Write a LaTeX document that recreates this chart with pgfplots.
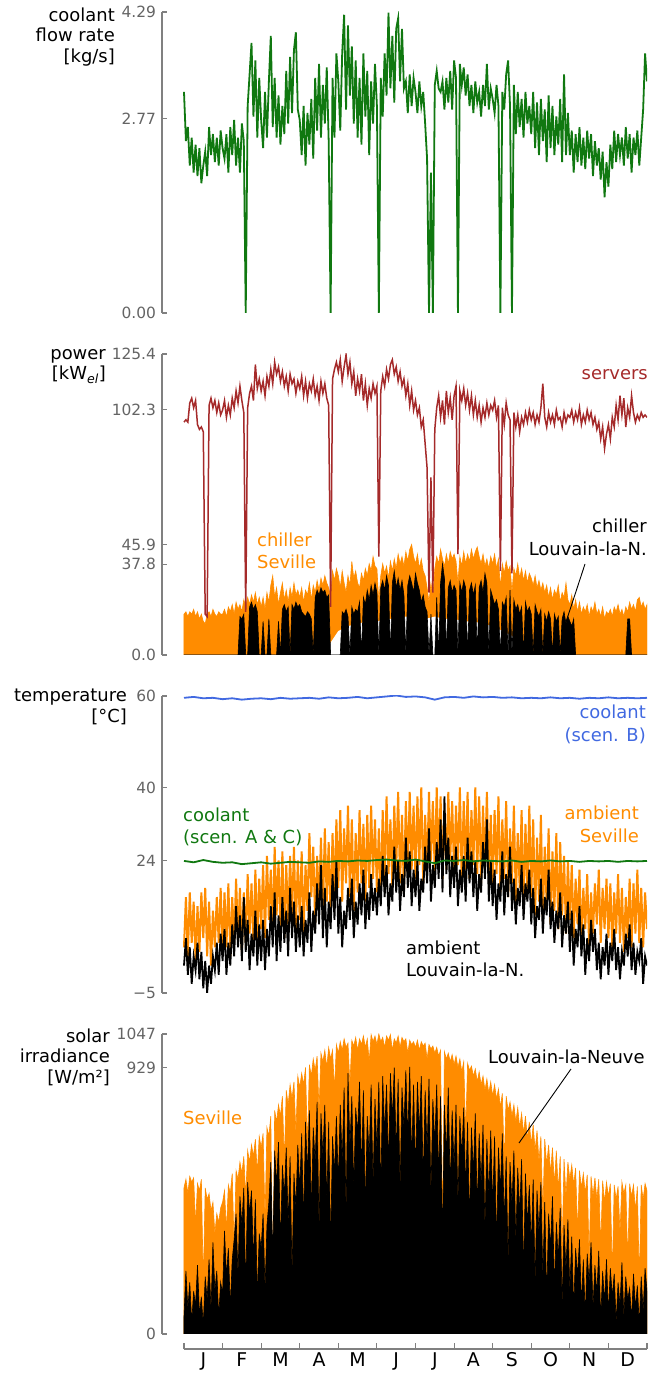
\documentclass[border=0pt]{standalone}
\usepackage{fontspec}
\setmainfont{DejaVu Sans}
\usepackage{pgfplots}
\pgfplotsset{compat=1.18}
\definecolor{cgreen}{RGB}{16,120,16}
\definecolor{cbrown}{RGB}{165,42,42}
\definecolor{corange}{RGB}{255,140,0}
\definecolor{cblue}{RGB}{65,105,225}
\definecolor{spine}{RGB}{128,128,128}
\definecolor{tickgray}{RGB}{100,100,100}
\newcommand\lab{\fontsize{18}{21}\selectfont}
\pgfplotsset{
  panel/.style={
    scale only axis, width=485bp, xmin=-0.570, xmax=12,
    axis x line=none, axis y line=left,
    axis line style={-, spine, line width=1.3bp},
    tick align=inside, major tick length=5bp,
    every tick/.style={spine, line width=1.1bp},
    yticklabel style={font=\fontsize{15.5}{17}\selectfont, text=tickgray, xshift=-2.5bp},
    /pgf/number format/assume math mode=true,
    clip=true, anchor=south west,
  },
}
\begin{document}
\begin{tikzpicture}
\path[use as bounding box] (0bp,0bp) rectangle (651bp,1375bp);
% ---------------- panel 1: flow rate
\begin{axis}[panel, at={(162bp,1062bp)}, height=301bp, ymin=0, ymax=4.29,
  ytick={0,2.77,4.29}, yticklabels={0.00,2.77,4.29}]
\addplot[cgreen, line width=1.8bp] table[row sep=\\, header=false, x expr=\coordindex*0.05, y index=0] {
3.15\\2.45\\2.65\\2.1\\2.5\\2.0\\2.4\\1.95\\2.35\\1.85\\2.1\\2.3\\1.95\\2.65\\2.25\\2.55\\2.15\\2.5\\2.1\\2.6\\
2.35\\2.2\\2.55\\2.0\\2.65\\2.25\\2.75\\2.1\\2.5\\2.0\\2.7\\2.45\\0\\2.95\\3.4\\3.85\\2.8\\3.6\\2.5\\3.35\\
2.75\\2.35\\3.15\\2.5\\3.3\\3.95\\2.65\\3.35\\2.5\\3.1\\2.4\\2.95\\2.55\\3.45\\2.7\\3.65\\2.85\\3.75\\4.0\\2.9\\
2.75\\2.25\\2.95\\2.1\\2.85\\2.4\\3.05\\2.2\\3.35\\2.6\\3.55\\2.5\\3.25\\2.7\\3.5\\2.45\\0\\3.35\\2.5\\3.7\\
3.3\\2.6\\3.7\\4.25\\2.9\\4.1\\3.1\\3.8\\2.7\\3.6\\2.5\\3.35\\2.4\\3.7\\2.8\\3.45\\2.25\\3.3\\2.7\\3.55\\
2.95\\0\\3.35\\2.8\\3.7\\3.1\\4.28\\3.2\\3.95\\3.0\\4.05\\4.2\\3.3\\4.05\\3.2\\3.3\\2.85\\3.4\\2.95\\3.35\\
3.15\\2.85\\3.3\\2.95\\3.15\\2.7\\2.2\\0\\2.0\\0\\3.25\\3.45\\3.2\\3.15\\3.3\\2.9\\3.35\\3.0\\3.45\\2.9\\
3.6\\3.35\\0\\3.55\\3.25\\3.5\\3.1\\3.4\\2.95\\3.25\\2.85\\3.3\\3.0\\3.15\\2.8\\3.25\\2.95\\3.55\\2.9\\3.2\\
3.05\\2.85\\3.25\\2.95\\0\\3.15\\2.9\\3.4\\3.6\\2.95\\0\\3.25\\2.55\\3.15\\2.65\\3.05\\2.5\\3.15\\2.7\\2.95\\
2.55\\3.15\\2.35\\3.0\\2.25\\3.05\\2.45\\2.9\\2.15\\3.1\\2.35\\2.95\\2.25\\2.8\\2.4\\3.05\\2.15\\3.4\\2.25\\2.85\\
2.25\\2.6\\2.0\\2.55\\2.15\\2.65\\2.1\\2.5\\2.05\\2.6\\2.2\\2.55\\1.95\\2.45\\2.1\\2.35\\1.9\\2.3\\1.65\\2.15\\
1.8\\2.4\\2.05\\2.6\\2.15\\2.55\\2.25\\2.5\\2.1\\2.65\\2.2\\2.55\\2.0\\2.5\\2.25\\2.6\\2.1\\2.5\\2.9\\3.7\\3.3\\
};
\end{axis}
% ---------------- panel 2: power
\begin{axis}[panel, at={(162bp,720bp)}, height=301bp, ymin=0, ymax=125.4,
  ytick={0,37.8,45.9,102.3,125.4}, yticklabels={0.0,37.8,45.9,102.3,125.4}]
\addplot[fill=corange, draw=corange, line width=0.6bp] table[row sep=\\, header=false, x expr=\coordindex*0.05, y index=0] {
17\\18\\16\\18\\17\\19\\16\\18\\15\\17\\14\\13\\17\\18\\16\\19\\17\\16\\18\\17\\
17\\19\\16\\20\\18\\21\\17\\22\\19\\21\\18\\23\\20\\24\\21\\25\\22\\26\\21\\24\\
20\\24\\19\\26\\22\\29\\33\\24\\28\\21\\26\\30\\23\\27\\22\\28\\24\\30\\25\\27\\
24\\28\\22\\27\\25\\30\\23\\29\\26\\31\\27\\32\\29\\33\\30\\28\\24\\35\\31\\36\\
33\\28\\35\\30\\26\\33\\29\\39\\32\\35\\30\\28\\34\\31\\36\\33\\38\\35\\41\\37\\
36\\22\\33\\38\\34\\37\\32\\39\\35\\40\\36\\42\\38\\41\\37\\43\\39\\44\\46\\41\\
38\\42\\36\\40\\35\\33\\28\\22\\30\\24\\36\\41\\38\\44\\40\\37\\42\\38\\43\\40\\
42\\39\\30\\41\\37\\43\\38\\42\\39\\44\\40\\43\\45\\41\\38\\42\\37\\40\\36\\41\\
38\\42\\36\\40\\28\\38\\34\\39\\35\\37\\26\\36\\33\\38\\32\\36\\31\\35\\30\\34\\
32\\29\\33\\28\\31\\27\\30\\26\\29\\24\\28\\23\\27\\25\\29\\22\\26\\24\\30\\23\\
21\\25\\19\\23\\18\\22\\17\\20\\18\\21\\16\\20\\18\\22\\17\\19\\16\\20\\15\\18\\
17\\19\\16\\20\\18\\21\\17\\19\\16\\20\\18\\22\\19\\21\\18\\23\\24\\20\\22\\19\\21\\
} \closedcycle;
\addplot[fill=white, draw=none] table[row sep=\\, header=false, x expr=\coordindex*0.25, y index=0] {
0\\0\\0\\0\\0\\0\\0\\0\\0\\0\\0\\0\\0\\0\\0\\4\\10\\12\\13\\14\\14\\15\\15\\16\\16\\15\\16\\15\\15\\14\\14\\13\\12\\10\\8\\5\\2\\0\\0\\0\\0\\0\\0\\0\\0\\0\\0\\0\\0\\
} \closedcycle;
\addplot[fill=black, draw=black, line width=0.6bp] table[row sep=\\, header=false, x expr=\coordindex*0.05, y index=0] {
0\\0\\0\\0\\0\\0\\0\\0\\0\\0\\0\\0\\0\\0\\0\\0\\0\\0\\0\\0\\
0\\0\\0\\0\\0\\0\\0\\0\\0\\16\\15\\17\\0\\0\\20\\22\\19\\21\\18\\0\\
0\\14\\0\\0\\15\\0\\0\\0\\0\\14\\0\\19\\21\\18\\20\\0\\21\\19\\22\\20\\
21\\18\\17\\16\\18\\17\\15\\0\\24\\27\\25\\28\\26\\27\\24\\25\\0\\0\\0\\0\\
0\\0\\18\\17\\19\\16\\0\\20\\17\\19\\18\\22\\0\\24\\21\\27\\23\\29\\25\\30\\
26\\0\\28\\31\\27\\33\\29\\0\\30\\35\\28\\32\\27\\31\\25\\0\\29\\33\\30\\26\\
34\\30\\27\\22\\25\\20\\18\\0\\17\\0\\0\\24\\0\\30\\38\\32\\0\\28\\31\\26\\
29\\27\\0\\30\\26\\31\\28\\0\\27\\30\\25\\29\\0\\28\\31\\26\\34\\30\\0\\27\\
24\\21\\23\\19\\0\\22\\20\\24\\0\\27\\0\\23\\19\\21\\17\\20\\0\\22\\18\\20\\
17\\0\\21\\18\\16\\19\\0\\17\\14\\18\\15\\0\\17\\14\\16\\0\\15\\18\\13\\16\\
14\\12\\15\\0\\0\\0\\0\\0\\0\\0\\0\\0\\0\\0\\0\\0\\0\\0\\0\\0\\
0\\0\\0\\0\\0\\0\\0\\0\\0\\0\\15\\15\\0\\0\\0\\0\\0\\0\\0\\0\\0\\
} \closedcycle;
\addplot[cbrown, line width=1.5bp] table[row sep=\\, header=false, x expr=\coordindex*0.05, y index=0] {
97\\98\\97\\105\\107\\103\\106\\96\\94\\95\\93\\17\\16\\104\\107\\103\\106\\101\\105\\100\\
102\\106\\99\\104\\100\\107\\103\\110\\105\\112\\106\\101\\18\\103\\109\\112\\106\\121\\111\\115\\
110\\114\\108\\116\\112\\119\\113\\122\\117\\120\\114\\118\\112\\116\\110\\117\\113\\115\\109\\114\\
111\\116\\108\\114\\107\\113\\110\\115\\108\\112\\106\\114\\109\\113\\107\\104\\20\\115\\119\\122\\
118\\123\\114\\120\\125\\117\\122\\113\\118\\108\\115\\110\\117\\106\\113\\104\\111\\107\\113\\109\\
112\\41\\110\\116\\112\\119\\115\\121\\123\\117\\120\\114\\118\\112\\115\\108\\113\\104\\110\\102\\
106\\100\\103\\95\\98\\88\\78\\26\\74\\26\\94\\103\\108\\99\\106\\96\\110\\101\\107\\98\\
108\\112\\42\\110\\106\\111\\104\\109\\102\\108\\100\\106\\99\\104\\97\\103\\99\\105\\100\\104\\
102\\106\\99\\104\\35\\103\\96\\105\\100\\98\\34\\101\\95\\100\\93\\99\\96\\101\\97\\102\\
98\\101\\96\\100\\97\\103\\113\\99\\95\\101\\97\\100\\96\\102\\98\\99\\95\\101\\97\\100\\
99\\102\\97\\101\\98\\103\\96\\100\\97\\102\\98\\101\\96\\99\\94\\97\\90\\95\\86\\92\\
96\\90\\99\\95\\104\\98\\108\\100\\107\\95\\103\\99\\108\\101\\97\\100\\98\\101\\99\\100\\99\\
};
\end{axis}
% ---------------- panel 3: temperature
\begin{axis}[panel, at={(162bp,382bp)}, height=297bp, ymin=-5, ymax=60,
  ytick={-5,24,40,60}, yticklabels={−5,24,40,60}]
\addplot[corange, line width=2bp] table[row sep=\\, header=false, x expr=\coordindex*0.05, y index=0] {
5\\16\\3\\17\\6\\15\\2\\14\\4\\17\\7\\18\\3\\15\\1\\13\\5\\16\\6\\18\\
4\\17\\5\\19\\3\\16\\6\\20\\7\\18\\4\\17\\6\\21\\8\\19\\5\\22\\7\\20\\
9\\23\\7\\25\\11\\22\\8\\27\\12\\24\\9\\26\\7\\23\\10\\25\\12\\27\\9\\24\\
11\\26\\8\\23\\13\\30\\16\\27\\10\\25\\14\\29\\12\\31\\15\\28\\11\\30\\16\\33\\
18\\35\\15\\31\\19\\36\\16\\33\\13\\30\\17\\35\\19\\32\\15\\34\\18\\36\\20\\33\\
17\\31\\16\\35\\19\\38\\21\\33\\18\\36\\22\\39\\19\\34\\17\\37\\21\\39\\22\\36\\
20\\38\\23\\40\\19\\34\\22\\39\\24\\37\\21\\40\\23\\38\\20\\35\\22\\39\\24\\37\\
21\\36\\23\\40\\19\\37\\22\\39\\20\\35\\23\\40\\21\\38\\19\\36\\22\\39\\20\\34\\
18\\35\\21\\38\\17\\33\\20\\37\\16\\31\\19\\36\\15\\30\\18\\35\\14\\32\\17\\36\\
16\\33\\12\\29\\15\\34\\11\\27\\14\\31\\10\\26\\13\\30\\9\\28\\12\\25\\8\\24\\
11\\23\\7\\20\\10\\22\\6\\18\\9\\21\\5\\17\\8\\19\\10\\22\\6\\18\\9\\20\\
7\\19\\5\\17\\8\\21\\6\\18\\4\\16\\7\\20\\5\\19\\8\\22\\6\\18\\5\\17\\9\\
};
\addplot[black, line width=1.8bp] table[row sep=\\, header=false, x expr=\coordindex*0.05, y index=0] {
1\\7\\-1\\5\\-3\\3\\0\\6\\-2\\4\\-4\\2\\-5\\1\\-3\\3\\0\\6\\-1\\8\\
2\\9\\-1\\6\\1\\10\\3\\14\\5\\12\\2\\16\\4\\11\\0\\8\\3\\13\\1\\10\\
2\\11\\0\\9\\3\\14\\5\\17\\2\\12\\4\\16\\6\\13\\3\\18\\7\\15\\4\\12\\
5\\14\\3\\11\\6\\17\\4\\13\\8\\19\\10\\23\\7\\18\\5\\15\\9\\21\\11\\24\\
8\\16\\5\\13\\9\\18\\11\\20\\7\\15\\10\\19\\12\\22\\9\\17\\11\\21\\13\\18\\
12\\20\\14\\25\\16\\23\\12\\19\\15\\27\\17\\24\\13\\21\\16\\29\\18\\26\\14\\22\\
16\\24\\13\\20\\17\\27\\19\\31\\15\\23\\18\\28\\20\\33\\17\\38\\21\\29\\16\\25\\
18\\27\\14\\22\\17\\25\\15\\29\\19\\26\\16\\24\\13\\21\\17\\28\\20\\33\\15\\24\\
14\\22\\11\\19\\15\\26\\12\\21\\16\\27\\13\\20\\10\\18\\14\\23\\11\\19\\15\\22\\
10\\18\\7\\14\\11\\20\\8\\16\\12\\22\\9\\15\\6\\13\\9\\17\\5\\12\\8\\15\\
4\\13\\1\\9\\5\\14\\3\\10\\-1\\7\\2\\11\\4\\9\\0\\6\\-2\\5\\1\\8\\
-1\\6\\2\\9\\0\\5\\-2\\4\\1\\8\\3\\10\\0\\6\\-1\\4\\2\\7\\-3\\3\\1\\
};
\addplot[cgreen, line width=1.8bp] table[row sep=\\, header=false, x expr=\coordindex*0.25, y index=0] {
23.9\\23.6\\24.1\\23.7\\23.5\\23.6\\23.2\\23.4\\23.6\\23.3\\23.5\\23.7\\23.6\\23.5\\23.8\\23.7\\23.9\\23.8\\24.0\\23.9\\24.1\\24.2\\24.0\\23.9\\24.2\\23.8\\23.4\\24.0\\23.9\\24.1\\23.8\\24.0\\23.9\\23.8\\24.0\\23.7\\23.9\\23.8\\24.0\\23.8\\23.9\\23.7\\23.9\\23.8\\23.9\\23.7\\23.9\\23.8\\23.9\\
};
\addplot[cblue, line width=1.8bp] table[row sep=\\, header=false, x expr=\coordindex*0.25, y index=0] {
59.6\\59.8\\59.5\\59.6\\59.3\\59.5\\59.2\\59.4\\59.5\\59.3\\59.6\\59.4\\59.5\\59.6\\59.4\\59.7\\59.5\\59.6\\59.8\\59.5\\59.7\\59.9\\60.1\\59.8\\59.9\\59.7\\59.2\\59.7\\59.8\\59.6\\59.9\\59.7\\59.8\\59.6\\59.7\\59.5\\59.6\\59.5\\59.7\\59.5\\59.6\\59.4\\59.6\\59.5\\59.7\\59.5\\59.6\\59.5\\59.6\\
};
\end{axis}
% ---------------- panel 4: solar irradiance
\begin{axis}[panel, at={(162bp,41bp)}, height=300bp, ymin=0, ymax=1047,
  ytick={0,929,1047}, yticklabels={0,929,1047}]
\addplot[fill=corange, draw=corange, line width=0.6bp] table[row sep=\\, header=false, x expr=\coordindex*0.05, y index=0] {
510\\540\\490\\550\\530\\545\\380\\525\\500\\540\\170\\510\\470\\490\\430\\460\\350\\420\\390\\440\\
460\\500\\360\\520\\490\\560\\300\\570\\540\\600\\560\\620\\480\\640\\600\\660\\620\\680\\560\\690\\
650\\700\\400\\720\\690\\760\\150\\780\\740\\800\\760\\830\\600\\850\\800\\870\\820\\880\\700\\900\\
860\\910\\870\\930\\650\\940\\900\\960\\920\\970\\780\\980\\950\\990\\930\\1000\\960\\990\\850\\1010\\
980\\1020\\990\\1030\\1000\\1015\\870\\1025\\1005\\1035\\990\\1030\\1010\\1040\\1000\\1030\\950\\1045\\1020\\1040\\
1010\\1047\\1020\\1035\\1000\\1040\\1025\\1045\\990\\1030\\1015\\1040\\1000\\1035\\1020\\1030\\980\\1025\\1010\\1020\\
1000\\1025\\990\\1020\\1005\\1015\\960\\1010\\995\\1005\\980\\1000\\970\\990\\360\\985\\960\\980\\950\\975\\
940\\970\\930\\960\\915\\950\\700\\945\\920\\935\\900\\925\\880\\915\\870\\900\\850\\890\\840\\880\\
830\\870\\820\\855\\790\\840\\600\\830\\780\\810\\760\\800\\740\\790\\720\\770\\700\\760\\680\\740\\
660\\730\\640\\710\\600\\690\\420\\680\\590\\660\\560\\650\\520\\640\\500\\620\\300\\610\\480\\600\\
540\\590\\520\\580\\350\\570\\510\\560\\490\\555\\260\\550\\480\\545\\470\\540\\300\\535\\460\\530\\
480\\525\\200\\520\\470\\515\\350\\530\\490\\520\\250\\525\\480\\520\\430\\515\\180\\520\\470\\525\\500\\
} \closedcycle;
\addplot[fill=black, draw=black, line width=0.6bp] table[row sep=\\, header=false, x expr=\coordindex*0.05, y index=0] {
60\\220\\90\\180\\40\\150\\100\\240\\70\\130\\30\\200\\120\\260\\80\\320\\150\\220\\60\\180\\
140\\360\\200\\300\\90\\260\\330\\420\\200\\480\\380\\510\\150\\530\\420\\500\\250\\470\\120\\350\\
300\\420\\150\\380\\460\\600\\250\\640\\520\\670\\300\\590\\480\\650\\380\\620\\200\\560\\440\\660\\
500\\700\\380\\740\\560\\780\\420\\720\\600\\810\\350\\770\\620\\800\\450\\740\\300\\690\\560\\760\\
520\\800\\600\\860\\410\\910\\650\\830\\500\\790\\700\\880\\560\\850\\430\\760\\620\\870\\520\\820\\
640\\880\\480\\900\\700\\870\\580\\910\\750\\930\\620\\890\\500\\860\\720\\920\\680\\932\\600\\870\\
560\\880\\700\\900\\520\\850\\640\\890\\480\\820\\660\\870\\540\\830\\300\\800\\620\\860\\500\\780\\
580\\800\\450\\760\\620\\790\\500\\740\\380\\720\\560\\770\\430\\700\\520\\730\\360\\680\\480\\710\\
440\\690\\300\\650\\500\\700\\380\\620\\250\\600\\450\\640\\320\\580\\420\\610\\200\\560\\380\\520\\
300\\540\\180\\500\\350\\530\\200\\460\\120\\420\\300\\480\\150\\390\\260\\440\\100\\380\\220\\400\\
150\\340\\80\\300\\200\\330\\100\\260\\60\\280\\180\\320\\90\\240\\140\\290\\50\\220\\110\\260\\
70\\230\\130\\210\\40\\180\\100\\250\\60\\200\\120\\160\\50\\210\\90\\170\\30\\200\\80\\230\\150\\
} \closedcycle;
\end{axis}
% ---------------- month axis
\begin{axis}[scale only axis, at={(184bp,26bp)}, anchor=south west, width=463bp, height=10bp,
  xmin=0, xmax=12, ymin=0, ymax=1, axis x line=bottom, axis y line=none,
  axis line style={-, spine, line width=1.3bp},
  every tick/.style={spine, line width=1.1bp},
  xtick={0,1,...,12}, xticklabels={}, tick align=inside, major tick length=6bp,
  extra x ticks={0.5,1.5,...,11.5},
  extra x tick labels={J,F,M,A,M,J,J,A,S,O,N,D},
  extra x tick style={major tick length=0bp, tick label style={font=\fontsize{19}{22}\selectfont, text=black}}]
\end{axis}
\begin{scope}[x=1bp,y=1bp]
% ---------------- y labels
\node[anchor=base east, inner sep=0, font=\lab] at (115,1353.3) {coolant};
\node[anchor=base east, inner sep=0, font=\lab] at (115,1333) {flow rate};
\node[anchor=base east, inner sep=0, font=\lab] at (115,1312.5) {[kg/s]};
\node[anchor=base east, inner sep=0, font=\lab] at (106,1015.5) {power};
\node[anchor=base east, inner sep=0, font=\lab] at (106,995) {[kW\textsubscript{\itshape el}]};
\node[anchor=base east, inner sep=0, font=\lab] at (127,673) {temperature};
\node[anchor=base east, inner sep=0, font=\lab] at (127,652) {[°C]};
\node[anchor=base east, inner sep=0, font=\lab] at (110,333) {solar};
\node[anchor=base east, inner sep=0, font=\lab] at (110,312.5) {irradiance};
\node[anchor=base east, inner sep=0, font=\lab] at (110,292) {[W/m²]};
% ---------------- annotations
\node[anchor=base east, inner sep=0, font=\lab, text=cbrown] at (648,995) {servers};
\node[anchor=base west, inner sep=0, font=\lab, text=corange] at (257,828) {chiller};
\node[anchor=base west, inner sep=0, font=\lab, text=corange] at (257,806) {Seville};
\node[anchor=base east, inner sep=0, font=\lab] at (647,842) {chiller};
\node[anchor=base east, inner sep=0, font=\lab] at (647,819) {Louvain-la-N.};
\draw[black, line width=0.9bp] (585,811) -- (565,750);
\node[anchor=base east, inner sep=0, font=\lab, text=cblue] at (646,656) {coolant};
\node[anchor=base east, inner sep=0, font=\lab, text=cblue] at (646,633) {(scen. B)};
\node[anchor=base west, inner sep=0, font=\lab, text=cgreen] at (183,553) {coolant};
\node[anchor=base west, inner sep=0, font=\lab, text=cgreen] at (183,531) {(scen. A \& C)};
\node[anchor=base east, inner sep=0, font=\lab, text=corange] at (639,555) {ambient};
\node[anchor=base east, inner sep=0, font=\lab, text=corange] at (639,532) {Seville};
\node[anchor=base west, inner sep=0, font=\lab] at (406,420) {ambient};
\node[anchor=base west, inner sep=0, font=\lab] at (406,398) {Louvain-la-N.};
\node[anchor=base west, inner sep=0, font=\lab, text=corange] at (183,251) {Seville};
\node[anchor=base west, inner sep=0, font=\lab] at (488,312) {Louvain-la-Neuve};
\draw[black, line width=0.9bp] (571,306) -- (519,232);
\end{scope}
\end{tikzpicture}
\end{document}
